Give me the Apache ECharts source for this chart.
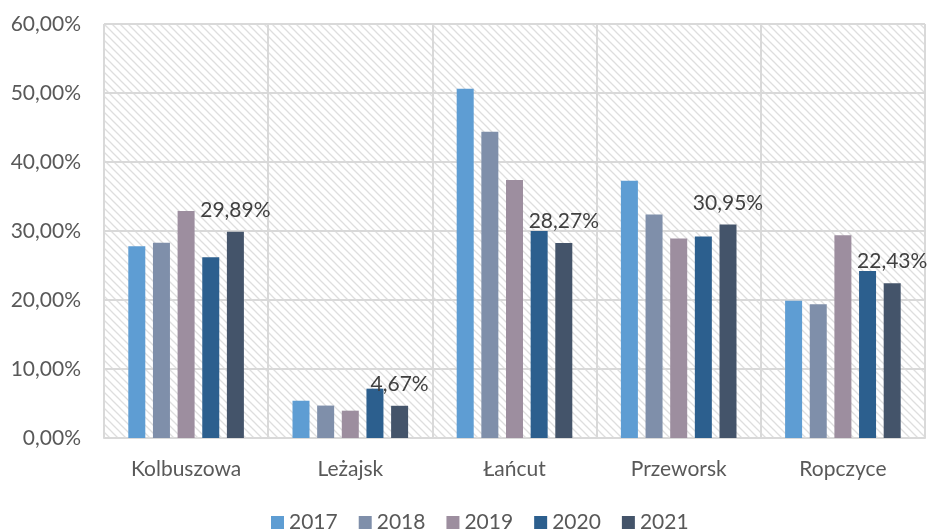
<!DOCTYPE html>
<html>
<head>
<meta charset="utf-8">
<script src="https://cdn.jsdelivr.net/npm/echarts@6/dist/echarts.min.js"></script>
<style>
  html, body { margin: 0; padding: 0; background: #fff; }
  #chart { width: 929px; height: 530px; }
</style>
</head>
<body>
<div id="chart"></div>
<script>
    // dane
    var categories = ['Kolbuszowa', 'Leżajsk', 'Łańcut', 'Przeworsk', 'Ropczyce'];
    var years = ['2017', '2018', '2019', '2020', '2021'];
    var v2017 = [27.8, 5.4, 50.6, 37.3, 19.9];
    var v2018 = [28.3, 4.7, 44.4, 32.4, 19.4];
    var v2019 = [32.9, 3.96, 37.4, 28.9, 29.4];
    var v2020 = [26.2, 7.15, 30.0, 29.2, 24.2];
    var v2021 = [29.89, 4.67, 28.27, 30.95, 22.43];
    var yTicks = [0, 10, 20, 30, 40, 50, 60];

    var colors = ['#5e9dd3', '#7f8faa', '#9d8e9f', '#2c5f8e', '#44546a'];
    var seriesData = [v2017, v2018, v2019, v2020, v2021];
    var FONT = 'Lato';

    function pct(v) {
        return v.toFixed(2).replace('.', ',') + '%';
    }

    // tło siatki - ukośne kreski
    function hatch() {
        var c = document.createElement('canvas');
        c.width = 8; c.height = 8;
        var ctx = c.getContext('2d');
        ctx.fillStyle = '#ffffff';
        ctx.fillRect(0, 0, 8, 8);
        ctx.strokeStyle = '#dedede';
        ctx.lineWidth = 1.3;
        ctx.beginPath();
        ctx.moveTo(-2, -2); ctx.lineTo(10, 10);
        ctx.moveTo(-2, 6); ctx.lineTo(2, 10);
        ctx.moveTo(6, -2); ctx.lineTo(10, 2);
        ctx.stroke();
        return c;
    }

    var myChart = echarts.init(document.getElementById('chart'));

    var series = years.map(function (y, i) {
        var s = {
            name: y,
            type: 'bar',
            data: seriesData[i],
            barWidth: 17,
            barGap: '45%',
            itemStyle: { color: colors[i] }
        };
        if (i === 4) {
            s.label = {
                show: true,
                position: 'top',
                distance: 11,
                color: '#404040',
                fontFamily: FONT,
                fontSize: 21,
                formatter: function (p) { return pct(p.value); }
            };
        }
        return s;
    });

    myChart.setOption({
        animation: false,
        textStyle: { fontFamily: FONT },
        grid: {
            left: 104,
            right: 4,
            top: 24,
            bottom: 92,
            show: true,
            borderWidth: 0,
            backgroundColor: { image: hatch(), repeat: 'repeat' }
        },
        legend: {
            data: years,
            left: 266,
            top: 507,
            itemWidth: 13,
            itemHeight: 13,
            itemGap: 21,
            icon: 'rect',
            textStyle: { color: '#595959', fontSize: 21, fontFamily: FONT }
        },
        xAxis: {
            type: 'category',
            data: categories,
            axisTick: { show: false },
            axisLine: { lineStyle: { color: '#d9d9d9', width: 2 } },
            splitLine: { show: true, lineStyle: { color: '#d9d9d9', width: 2 } },
            axisLabel: { color: '#595959', fontSize: 21, fontFamily: FONT, margin: 21 }
        },
        yAxis: {
            type: 'value',
            min: yTicks[0],
            max: yTicks[yTicks.length - 1],
            interval: 10,
            axisLine: { show: false },
            axisTick: { show: false },
            splitLine: { lineStyle: { color: '#d9d9d9', width: 2 } },
            axisLabel: {
                color: '#595959', fontSize: 21, fontFamily: FONT, margin: 23,
                formatter: function (v) { return pct(v); }
            }
        },
        series: series
    });
</script>
</body>
</html>
